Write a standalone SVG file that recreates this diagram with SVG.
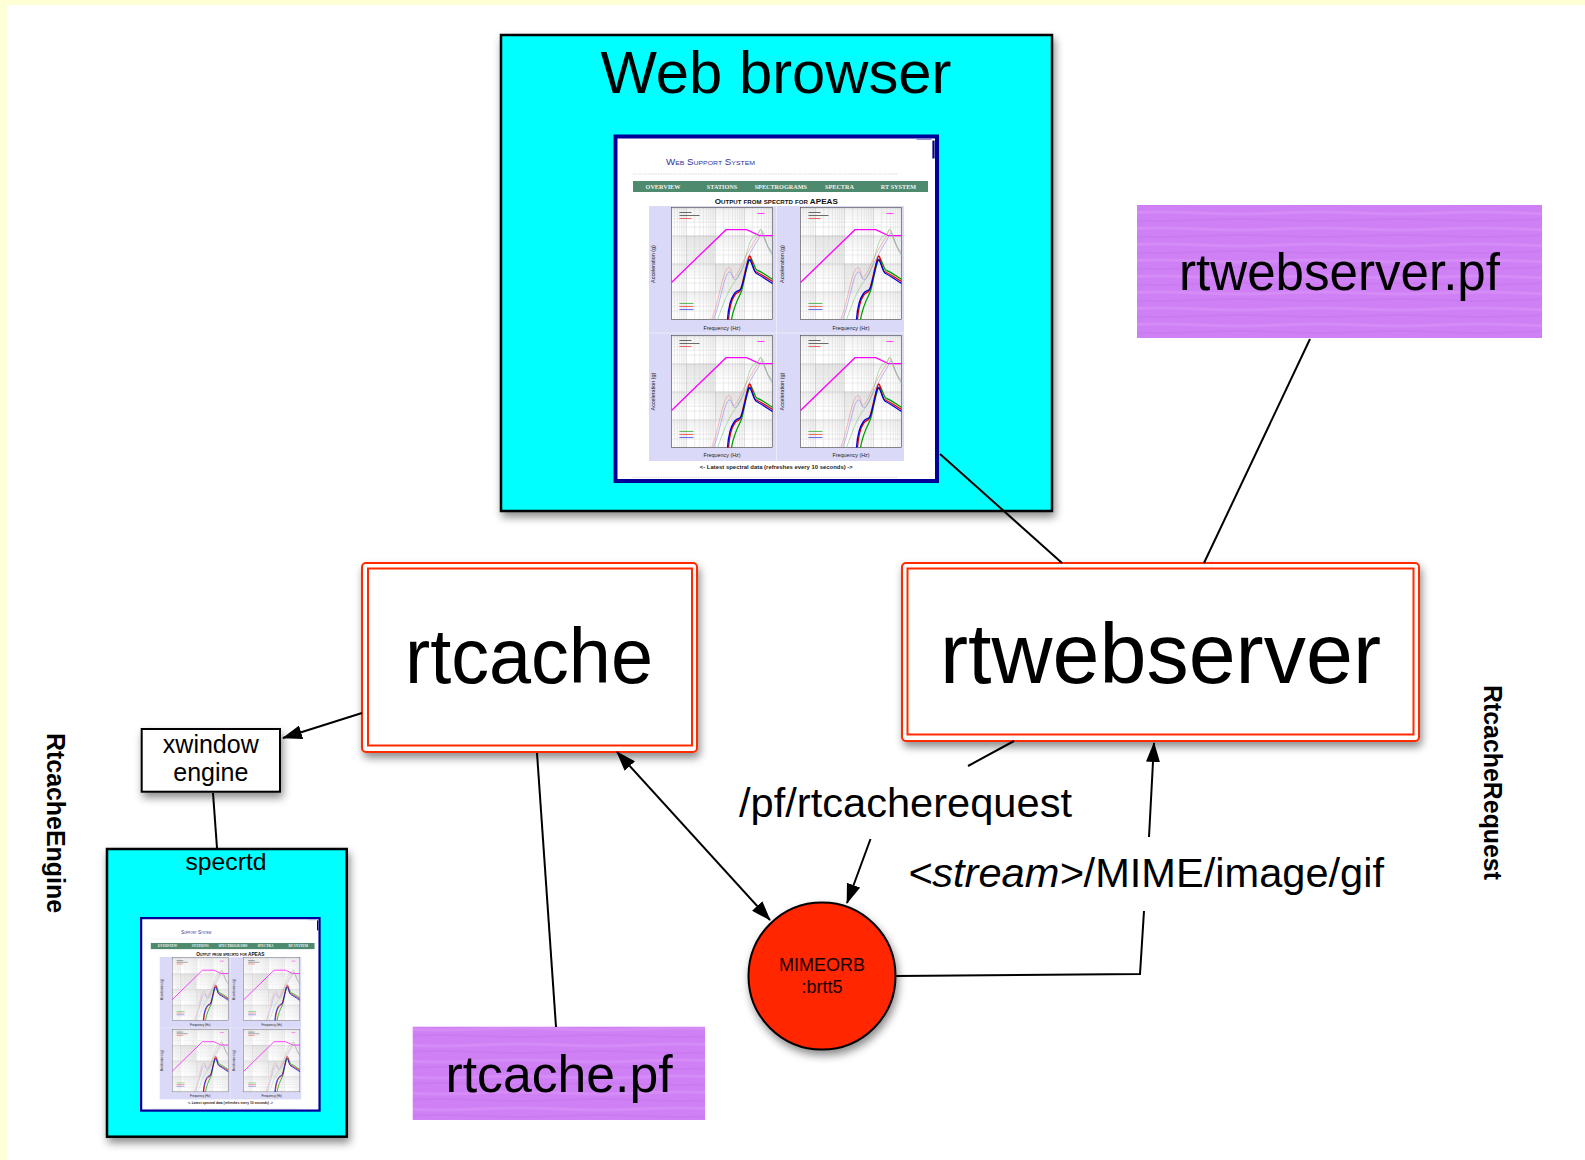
<svg xmlns="http://www.w3.org/2000/svg" xmlns:xlink="http://www.w3.org/1999/xlink" width="1585" height="1160" viewBox="0 0 1585 1160">
<style>
.sans{font-family:"Liberation Sans",Arial,"DejaVu Sans",sans-serif;}
.serif{font-family:"Liberation Serif","Times New Roman",serif;}
.conn{stroke:#000;stroke-width:2;fill:none;}
.red1{fill:#fff;stroke:#ff2a00;stroke-width:2;}
.red2{fill:none;stroke:#ff2a00;stroke-width:2;}
.nav{font-family:"Liberation Serif","Times New Roman",serif;font-weight:bold;font-size:6.2px;fill:#f2f2f2;text-anchor:middle;}
.axl{font-family:"Liberation Sans",Arial,sans-serif;font-size:5.4px;fill:#222;text-anchor:middle;}
</style>
<defs>
<filter id="sh" x="-15%" y="-15%" width="135%" height="140%">
<feDropShadow dx="2" dy="5" stdDeviation="4" flood-color="#000" flood-opacity="0.45"/>
</filter>
<marker id="ah" markerUnits="userSpaceOnUse" viewBox="0 0 20 14" markerWidth="20" markerHeight="14" refX="19" refY="7" orient="auto-start-reverse">
<path d="M0,0 L20,7 L0,14 z" fill="#000"/>
</marker>
<pattern id="purp" patternUnits="userSpaceOnUse" width="160" height="16">
<rect width="160" height="16" fill="#cf80f4"/>
<path d="M0,5 Q40,3 80,5 T160,5" stroke="#d68cf7" stroke-width="3" fill="none"/>
<path d="M0,12 Q40,14 80,12 T160,12" stroke="#cb7af1" stroke-width="2" fill="none"/>
</pattern>
<pattern id="grid" patternUnits="userSpaceOnUse" x="14.4" y="0" width="29" height="28">
<path d="M8.7,0V28M13.8,0V28M17.5,0V28M20.3,0V28M22.6,0V28M24.5,0V28M26.2,0V28M27.7,0V28M0,19.6H29M0,14.6H29M0,11.1H29M0,8.4H29M0,6.2H29M0,4.3H29M0,2.7H29M0,1.3H29" stroke="#c4c4c4" stroke-width="0.35"/>
<path d="M0.2,0V28M0,0.2H29" stroke="#8a8a8a" stroke-width="0.45"/>
</pattern>
<g id="plot">
<rect width="101" height="112" fill="#fff"/>
<rect x="14.4" y="28" width="29" height="28" fill="#efefef"/>
<rect x="43.4" y="56" width="29" height="28" fill="#efefef"/>
<rect width="101" height="112" fill="url(#grid)"/>
<rect width="101" height="112" fill="none" stroke="#444" stroke-width="0.6"/>
<polyline points="0,75 54.5,22.2 75.2,22.2 87.9,28.1 101,28.1" fill="none" stroke="#ff00ff" stroke-width="1.3"/>
<g fill="none" stroke-width="0.6">
<path d="M40,112 C46,100 50,70 55,62 S60,72 63,70 S72,52 78,42 S85,30 88,24 S92,38 101,44" stroke="#f08a8a"/>
<path d="M42,112 C48,98 52,72 56,66 S61,74 64,72 S73,56 79,45 S86,34 89,27 S94,40 101,46" stroke="#8a8af0"/>
<path d="M46,112 C52,96 56,84 62,76 S70,66 74,50 S80,30 84,28 S88,20 90,22 S95,40 101,48" stroke="#7cc87c"/>
</g>
<g fill="none" stroke-width="1.3">
<path d="M60,112 C62,100 66,92 69,86 S73,66 77,55 S82,62 86,63 S95,68 101,72" stroke="#00a000"/>
<path d="M57,112 C58,100 60,92 63,88 S66,86 68,84 S72,70 76,54 S80,62 84,64 S95,70 101,74" stroke="#e00000"/>
<path d="M56,112 C57,98 60,90 63,86 S67,84 69,82 S73,68 76,56 S81,64 85,66 S95,72 101,76" stroke="#0000e0"/>
</g>
<g stroke-width="1.1" opacity="0.7">
<path d="M8,5H20M8,8H28" stroke="#333"/>
<path d="M8,11H20" stroke="#e33"/>
<path d="M86,6H93" stroke="#f0f"/>
<path d="M8,96H22" stroke="#2a2"/>
<path d="M8,99H22" stroke="#e33"/>
<path d="M8,102H22" stroke="#33e"/>
</g>
</g>
<g id="shot">
<rect x="2" y="2" width="321.5" height="344.5" fill="#fff" stroke="#000099" stroke-width="4"/>
<path d="M303,5H318" stroke="#9090d0" stroke-width="1"/>
<path d="M320,6V24" stroke="#000088" stroke-width="2.2"/>
<line x1="19.5" y1="39.5" x2="284.5" y2="39.5" stroke="#cccccc" stroke-width="0.7" stroke-dasharray="1.5 1"/>
<rect x="19.5" y="46.5" width="295" height="11" fill="#4d8a6e"/>
<text class="nav" x="49.5" y="54.3">OVERVIEW</text>
<text class="nav" x="108.5" y="54.3">STATIONS</text>
<text class="nav" x="167.3" y="54.3">SPECTROGRAMS</text>
<text class="nav" x="226" y="54.3">SPECTRA</text>
<text class="nav" x="285" y="54.3">RT SYSTEM</text>
<text class="sans" x="162.8" y="69.3" font-size="8" font-weight="bold" font-variant="small-caps" text-anchor="middle" textLength="123" lengthAdjust="spacingAndGlyphs" fill="#111">Output from specrtd for APEAS</text>
<rect x="35.5" y="71.5" width="255" height="255" fill="#dadaf8"/>
<path d="M163,71.5V326.5M35.5,198.5H290.5" stroke="#ececfc" stroke-width="1"/>
<use xlink:href="#plot" x="58" y="73"/>
<use xlink:href="#plot" x="187" y="73"/>
<use xlink:href="#plot" x="58" y="201"/>
<use xlink:href="#plot" x="187" y="201"/>
<text class="axl" x="108.5" y="195.5">Frequency (Hz)</text>
<text class="axl" x="237.5" y="195.5">Frequency (Hz)</text>
<text class="axl" x="108.5" y="322.8">Frequency (Hz)</text>
<text class="axl" x="237.5" y="322.8">Frequency (Hz)</text>
<text class="axl" transform="translate(41.5,129.5) rotate(-90)">Acceleration (g)</text>
<text class="axl" transform="translate(170.5,129.5) rotate(-90)">Acceleration (g)</text>
<text class="axl" transform="translate(41.5,257) rotate(-90)">Acceleration (g)</text>
<text class="axl" transform="translate(170.5,257) rotate(-90)">Acceleration (g)</text>
<text class="sans" x="162.8" y="334.5" font-size="5.5" font-weight="bold" text-anchor="middle" textLength="153" lengthAdjust="spacingAndGlyphs" fill="#222">&lt;- Latest spectral data (refreshes every 10 seconds) -&gt;</text>
<line x1="19.5" y1="342.8" x2="284.5" y2="342.8" stroke="#cccccc" stroke-width="0.7" stroke-dasharray="1.5 1"/>
</g>
</defs>

<rect width="1585" height="1160" fill="#ffffd6"/>
<rect x="7" y="5" width="1578" height="1155" fill="#fff"/>

<g id="web-browser">
<rect x="501" y="35" width="551" height="476" fill="#00ffff" stroke="#000" stroke-width="2.5" filter="url(#sh)"/>
<text class="sans" x="776" y="93" font-size="60" text-anchor="middle" textLength="351" lengthAdjust="spacingAndGlyphs">Web browser</text>
<g transform="translate(613.5,134.5)">
<use xlink:href="#shot"/>
<text class="sans" x="52.5" y="30.5" font-size="8.5" font-variant="small-caps" textLength="89" lengthAdjust="spacingAndGlyphs" fill="#333399">Web Support System</text>
</g>
</g>

<g id="rtwebserver-pf">
<rect x="1137" y="205" width="405" height="133" fill="url(#purp)"/>
<text class="sans" x="1339.5" y="290" font-size="51" text-anchor="middle" textLength="321" lengthAdjust="spacingAndGlyphs">rtwebserver.pf</text>
</g>

<g id="rtcache">
<rect class="red1" x="362" y="563" width="335" height="189" rx="4" filter="url(#sh)"/>
<rect class="red2" x="368" y="568.5" width="324" height="177"/>
<text class="sans" x="529" y="683" font-size="77" text-anchor="middle" textLength="248" lengthAdjust="spacingAndGlyphs">rtcache</text>
</g>

<g id="rtwebserver">
<rect class="red1" x="902" y="563" width="517" height="178" rx="4" filter="url(#sh)"/>
<rect class="red2" x="907.5" y="568.5" width="506" height="166"/>
<text class="sans" x="1160.5" y="683" font-size="86" text-anchor="middle" textLength="441" lengthAdjust="spacingAndGlyphs">rtwebserver</text>
</g>

<g id="xwindow-engine">
<rect x="141.7" y="729" width="138.3" height="62.7" fill="#fff" stroke="#000" stroke-width="2" filter="url(#sh)"/>
<text class="sans" x="210.8" y="753" font-size="25" text-anchor="middle">xwindow</text>
<text class="sans" x="210.8" y="781" font-size="25" text-anchor="middle">engine</text>
</g>

<g id="specrtd">
<rect x="107" y="849" width="239.7" height="287.7" fill="#00ffff" stroke="#000" stroke-width="2.5" filter="url(#sh)"/>
<text class="sans" x="226" y="870" font-size="24" text-anchor="middle" textLength="81" lengthAdjust="spacingAndGlyphs">specrtd</text>
<g transform="translate(140,917) scale(0.555,0.5587)">
<use xlink:href="#shot"/>
<text class="sans" x="74" y="30" font-size="8.5" font-variant="small-caps" fill="#333399">Support System</text>
</g>
</g>

<g id="rtcache-pf">
<rect x="412.7" y="1026.7" width="292.3" height="93.3" fill="url(#purp)"/>
<text class="sans" x="559" y="1091.7" font-size="52" text-anchor="middle" textLength="227" lengthAdjust="spacingAndGlyphs">rtcache.pf</text>
</g>

<g id="mimeorb">
<circle cx="822" cy="976" r="73.5" fill="#ff2600" stroke="#000" stroke-width="2" filter="url(#sh)"/>
<text class="sans" x="822" y="970.7" font-size="18" text-anchor="middle" fill="#1a0000">MIMEORB</text>
<text class="sans" x="822" y="993" font-size="18" text-anchor="middle" fill="#1a0000">:brtt5</text>
</g>

<g id="RtcacheEngine-label">
<text class="sans" transform="translate(47,733) rotate(90)" font-size="25" font-weight="bold" textLength="180" lengthAdjust="spacingAndGlyphs">RtcacheEngine</text>
</g>
<g id="RtcacheRequest-label">
<text class="sans" transform="translate(1484,685) rotate(90)" font-size="25" font-weight="bold" textLength="195" lengthAdjust="spacingAndGlyphs">RtcacheRequest</text>
</g>

<g id="connectors">
<path class="conn" d="M617,752 L770,920" marker-start="url(#ah)" marker-end="url(#ah)"/>
<path class="conn" d="M1014,741 L968,766 M870.5,839 L847,903" marker-end="url(#ah)"/>
<path class="conn" d="M896,976 L1140,974 L1144,911 M1149,837 L1154,743" marker-end="url(#ah)"/>
<path class="conn" d="M537,753 L556,1027"/>
<path class="conn" d="M940,454 L1062,563"/>
<path class="conn" d="M1310,339 L1204,563"/>
<path class="conn" d="M362,713 L283,738" marker-end="url(#ah)"/>
<path class="conn" d="M213,793 L217,848"/>
<text class="sans" x="739" y="817" font-size="41" textLength="333" lengthAdjust="spacingAndGlyphs">/pf/rtcacherequest</text>
<text class="sans" x="908" y="887" font-size="41" textLength="476" lengthAdjust="spacingAndGlyphs"><tspan font-style="italic">&lt;stream&gt;</tspan>/MIME/image/gif</text>
</g>
</svg>
